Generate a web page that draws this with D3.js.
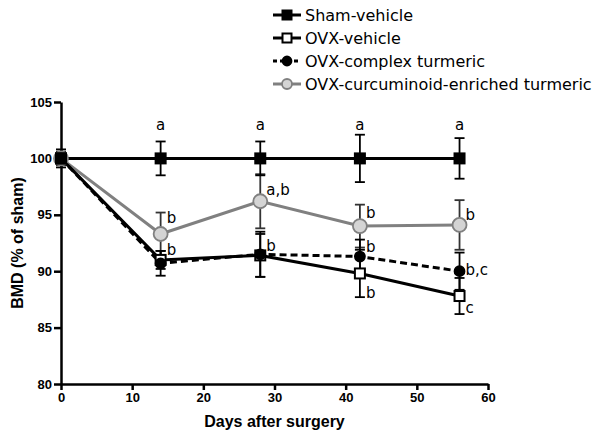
<!DOCTYPE html>
<html>
<head>
<meta charset="utf-8">
<script src="https://cdn.jsdelivr.net/npm/d3@7"></script>
<style>
  body { margin: 0; background: #fff; }
  svg { display: block; }
</style>
</head>
<body>
<figure id="chart" style="margin:0"></figure>
<script>
// chart values
const days = [0, 14, 28, 42, 56];
const shamMean = [100, 100, 100, 100, 100];
const shamErr = [0.8, 1.5, 1.5, 2.1, 1.8];
const vehMean = [100, 91.0, 91.4, 89.8, 87.8];
const vehErr = [0.5, 0.8, 1.9, 2.1, 1.6];
const complexMean = [100, 90.7, 91.5, 91.3, 90.0];
const complexErr = [0.5, 1.1, 2.0, 1.5, 1.65];
const curcMean = [100, 93.3, 96.2, 94.0, 94.1];
const curcErr = [0.6, 1.9, 2.4, 1.9, 2.2];

const seriesNames = ["Sham-vehicle", "OVX-vehicle", "OVX-complex turmeric", "OVX-curcuminoid-enriched turmeric"];
const xTicks = [0, 10, 20, 30, 40, 50, 60];
const yTicks = [80, 85, 90, 95, 100, 105];

// significance letters: day, value, text
const letterDays = [14, 28, 42, 56, 14, 14, 28, 28, 42, 42, 42, 56, 56, 56];
const letterVals = [103.0, 103.0, 103.0, 103.0, 94.7, 91.9, 97.2, 92.3, 95.2, 92.2, 88.1, 95.0, 90.1, 86.8];
const letterText = ["a", "a", "a", "a", "b", "b", "a,b", "b", "b", "b", "b", "b", "b,c", "c"];

const W = 608, H = 438;
const plotL = 61, plotR = 488, plotT = 102, plotB = 384;

const svg = d3.select("#chart").append("svg")
  .attr("width", W).attr("height", H);

const x = d3.scaleLinear().domain([0, 60]).range([plotL, plotR]);
const y = d3.scaleLinear().domain([80, 105]).range([plotB, plotT]);

// axes
const xAxis = svg.append("g")
  .attr("transform", "translate(0," + plotB + ")")
  .call(d3.axisBottom(x).tickValues(xTicks).tickSize(6).tickPadding(3).tickSizeOuter(0));
const yAxis = svg.append("g")
  .attr("transform", "translate(" + plotL + ",0)")
  .call(d3.axisLeft(y).tickValues(yTicks).tickSize(7).tickPadding(2).tickSizeOuter(0));

[xAxis, yAxis].forEach(g => {
  g.select(".domain").attr("stroke", "#000").attr("stroke-width", 2.5);
  g.selectAll(".tick line").attr("stroke", "#000").attr("stroke-width", 2.5);
  g.selectAll("text")
    .attr("fill", "#000")
    .style("font-family", "'Liberation Sans', Arial, sans-serif")
    .style("font-weight", "bold")
    .style("font-size", "13px");
});

svg.append("text")
  .attr("x", (plotL + plotR) / 2)
  .attr("y", 427)
  .attr("text-anchor", "middle")
  .style("font-family", "'Liberation Sans', Arial, sans-serif")
  .style("font-weight", "bold")
  .style("font-size", "16px")
  .text("Days after surgery");

svg.append("text")
  .attr("transform", "translate(23," + ((plotT + plotB) / 2) + ") rotate(-90)")
  .attr("text-anchor", "middle")
  .style("font-family", "'Liberation Sans', Arial, sans-serif")
  .style("font-weight", "bold")
  .style("font-size", "16px")
  .text("BMD (% of sham)");

const series = [
  {name: seriesNames[3], mean: curcMean, err: curcErr, color: "#808080", dash: null, marker: "circle", fill: "#d4d4d4", r: 7, errColor: "#333"},
  {name: seriesNames[1], mean: vehMean, err: vehErr, color: "#000", dash: null, marker: "square", fill: "#fff", r: 5, errColor: "#000"},
  {name: seriesNames[2], mean: complexMean, err: complexErr, color: "#000", dash: "7,4", marker: "circle", fill: "#000", r: 5, errColor: "#000"},
  {name: seriesNames[0], mean: shamMean, err: shamErr, color: "#000", dash: null, marker: "square", fill: "#000", r: 5, errColor: "#000"}
];

const line = d3.line().x((d, i) => x(days[i])).y(d => y(d));

// error bars
series.forEach(s => {
  const g = svg.append("g").attr("stroke", s.errColor).attr("stroke-width", 1.8);
  days.forEach((d, i) => {
    const cx = x(d), hi = y(s.mean[i] + s.err[i]), lo = y(s.mean[i] - s.err[i]);
    g.append("line").attr("x1", cx).attr("x2", cx).attr("y1", hi).attr("y2", lo);
    g.append("line").attr("x1", cx - 5).attr("x2", cx + 5).attr("y1", hi).attr("y2", hi);
    g.append("line").attr("x1", cx - 5).attr("x2", cx + 5).attr("y1", lo).attr("y2", lo);
  });
});

// lines
series.forEach(s => {
  svg.append("path")
    .attr("d", line(s.mean))
    .attr("fill", "none")
    .attr("stroke", s.color)
    .attr("stroke-width", 3)
    .attr("stroke-dasharray", s.dash);
});

function drawMarker(g, s, cx, cy, r) {
  if (s.marker === "circle") {
    g.append("circle").attr("cx", cx).attr("cy", cy).attr("r", r)
      .attr("fill", s.fill).attr("stroke", s.color).attr("stroke-width", 1.8);
  } else {
    g.append("rect").attr("x", cx - r).attr("y", cy - r).attr("width", 2 * r).attr("height", 2 * r)
      .attr("fill", s.fill).attr("stroke", s.color).attr("stroke-width", 2);
  }
}

// markers
series.forEach(s => {
  const g = svg.append("g");
  days.forEach((d, i) => drawMarker(g, s, x(d), y(s.mean[i]), s.r));
});

// significance letters
letterText.forEach((t, i) => {
  const isTop = letterVals[i] > 102;
  svg.append("text")
    .attr("x", x(letterDays[i]) + (isTop ? 0 : 6))
    .attr("y", y(letterVals[i]))
    .attr("dy", "0.35em")
    .attr("text-anchor", isTop ? "middle" : "start")
    .style("font-family", "'DejaVu Sans', Verdana, sans-serif")
    .style("font-size", "15px")
    .text(t);
});

// legend
const legendOrder = [3, 1, 2, 0];
const legend = svg.append("g");
legendOrder.forEach((si, k) => {
  const s = series[si];
  const ly = 15 + k * 23;
  legend.append("line")
    .attr("x1", 273).attr("x2", 301).attr("y1", ly).attr("y2", ly)
    .attr("stroke", s.color).attr("stroke-width", 3)
    .attr("stroke-dasharray", s.dash ? "4,3" : null);
  drawMarker(legend, s, 287, ly, s.marker === "circle" && s.r > 5 ? 5 : 4.5);
  legend.append("text")
    .attr("x", 305).attr("y", ly).attr("dy", "0.35em")
    .style("font-family", "'DejaVu Sans', Verdana, sans-serif")
    .style("font-size", "16px")
    .text(s.name);
});
</script>
</body>
</html>
